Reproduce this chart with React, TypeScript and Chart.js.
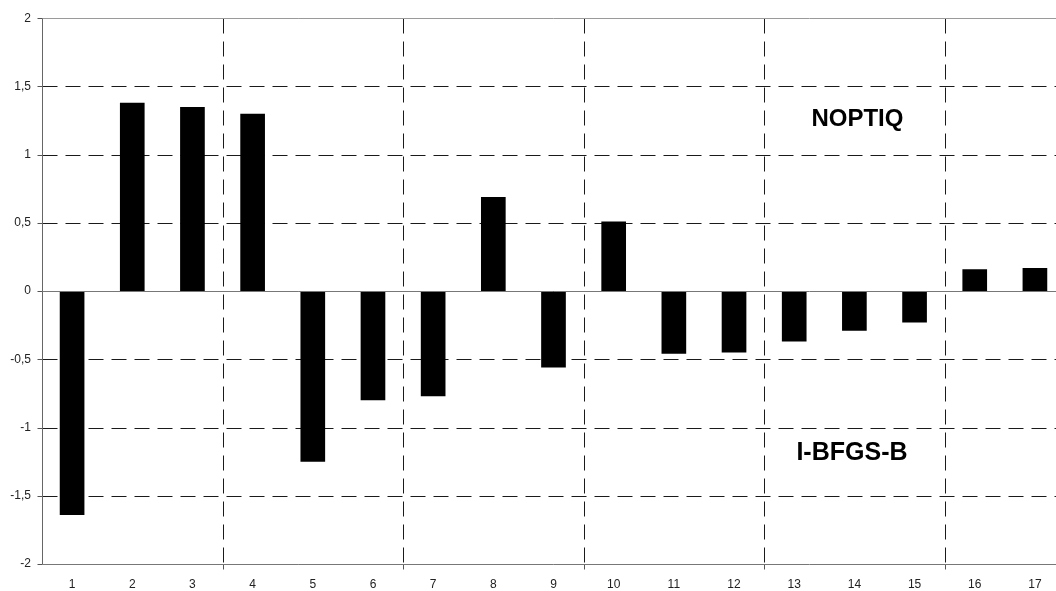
import React, { useEffect, useRef } from "react";
import { Chart, registerables } from "chart.js";

Chart.register(...registerables);

const categories = ["1", "2", "3", "4", "5", "6", "7", "8", "9", "10", "11", "12", "13", "14", "15", "16", "17"];
const values = [-1.64, 1.38, 1.35, 1.3, -1.25, -0.8, -0.77, 0.69, -0.56, 0.51, -0.46, -0.45, -0.37, -0.29, -0.23, 0.16, 0.17];
const yTicks = [-2, -1.5, -1, -0.5, 0, 0.5, 1, 1.5, 2];
const dashedLevels = [-1.5, -1, -0.5, 0.5, 1, 1.5];
const groupBoundaries = [3, 6, 9, 12, 15];
const labelTexts = ["NOPTIQ", "I-BFGS-B"];
const labelX = [13.05, 12.96];
const labelY = [1.26, -1.19];

const FONT = '"Liberation Sans", Arial, sans-serif';

const gridPlugin = {
  id: "customGrid",
  beforeDatasetsDraw(chart: any) {
    const { ctx, chartArea, scales } = chart;
    const xs = scales.x;
    const ys = scales.y;
    const L = Math.round(chartArea.left) + 0.5;
    const R = chartArea.right;
    const T = Math.round(ys.getPixelForValue(2)) + 0.5;
    const B = Math.round(ys.getPixelForValue(-2)) + 0.5;
    ctx.save();
    ctx.lineWidth = 1;
    // dashed horizontal
    ctx.strokeStyle = "#1a1a1a";
    ctx.setLineDash([15, 8]);
    dashedLevels.forEach((v) => {
      const y = Math.round(ys.getPixelForValue(v)) + 0.5;
      ctx.beginPath();
      ctx.moveTo(L, y);
      ctx.lineTo(R, y);
      ctx.stroke();
    });
    // dashed vertical
    groupBoundaries.forEach((b) => {
      const x = Math.round(xs.getPixelForValue(b - 0.5)) + 0.5;
      ctx.setLineDash([15, 8]);
      ctx.beginPath();
      ctx.moveTo(x, T);
      ctx.lineTo(x, B);
      ctx.stroke();
      ctx.setLineDash([]);
      ctx.strokeStyle = "#555";
      ctx.beginPath();
      ctx.moveTo(x, B);
      ctx.lineTo(x, B + 5);
      ctx.stroke();
      ctx.strokeStyle = "#1a1a1a";
    });
    ctx.setLineDash([]);
    // top border
    ctx.strokeStyle = "#9a9a9a";
    ctx.beginPath();
    ctx.moveTo(L, T);
    ctx.lineTo(R, T);
    ctx.stroke();
    // y tick marks
    ctx.strokeStyle = "#555";
    yTicks.forEach((v) => {
      const y = Math.round(ys.getPixelForValue(v)) + 0.5;
      ctx.beginPath();
      ctx.moveTo(L - 5, y);
      ctx.lineTo(L, y);
      ctx.stroke();
    });
    ctx.restore();
  },
  afterDatasetsDraw(chart: any) {
    const { ctx, chartArea, scales } = chart;
    const xs = scales.x;
    const ys = scales.y;
    const L = Math.round(chartArea.left) + 0.5;
    const R = chartArea.right;
    const T = Math.round(ys.getPixelForValue(2)) + 0.5;
    const B = Math.round(ys.getPixelForValue(-2)) + 0.5;
    const Z = Math.round(ys.getPixelForValue(0)) + 0.5;
    ctx.save();
    ctx.lineWidth = 1;
    ctx.setLineDash([]);
    ctx.strokeStyle = "#777";
    ctx.beginPath();
    ctx.moveTo(L, Z);
    ctx.lineTo(R, Z);
    ctx.stroke();
    ctx.beginPath();
    ctx.moveTo(L, B);
    ctx.lineTo(R, B);
    ctx.stroke();
    ctx.strokeStyle = "#666";
    ctx.beginPath();
    ctx.moveTo(L, T);
    ctx.lineTo(L, B);
    ctx.stroke();
    // labels
    ctx.fillStyle = "#000";
    ctx.font = `bold 24px ${FONT}`;
    ctx.textAlign = "center";
    ctx.textBaseline = "middle";
    labelTexts.forEach((t, i) => {
      ctx.font = `bold ${i === 0 ? 24 : 25}px ${FONT}`;
      ctx.fillText(t, xs.getPixelForValue(labelX[i]), ys.getPixelForValue(labelY[i]));
    });
    ctx.restore();
  },
};

export default function App() {
  const ref = useRef<HTMLCanvasElement | null>(null);
  useEffect(() => {
    if (!ref.current) return;
    const chart = new Chart(ref.current, {
      type: "bar",
      data: {
        labels: categories,
        datasets: [
          {
            data: values,
            backgroundColor: "#000",
            borderWidth: 0,
            barPercentage: 0.41,
            categoryPercentage: 1,
          },
        ],
      },
      options: {
        responsive: false,
        animation: false,
        layout: { padding: { top: 16, left: 0, right: 0, bottom: 0 } },
        plugins: { legend: { display: false }, tooltip: { enabled: false } },
        scales: {
          x: {
            grid: { display: false, drawTicks: false },
            border: { display: false },
            ticks: {
              padding: 13,
              color: "#222",
              font: { family: FONT, size: 12 },
              maxRotation: 0,
              autoSkip: false,
            },
            afterFit: (s: any) => {
              s.height = 27;
            },
          },
          y: {
            min: -2,
            max: 2,
            grid: { display: false, drawTicks: false },
            border: { display: false },
            ticks: {
              stepSize: 0.5,
              padding: 11,
              color: "#222",
              font: { family: FONT, size: 12 },
              callback: (v: any) => String(v).replace(".", ","),
            },
            afterFit: (s: any) => {
              s.width = 42;
            },
          },
        },
      },
      plugins: [gridPlugin],
    });
    return () => chart.destroy();
  }, []);
  return (
    <div style={{ position: "absolute", left: 0, top: 0, width: 1056, height: 591, overflow: "hidden", background: "#fff" }}>
      <canvas ref={ref} width={1065} height={591} style={{ display: "block" }} />
    </div>
  );
}
